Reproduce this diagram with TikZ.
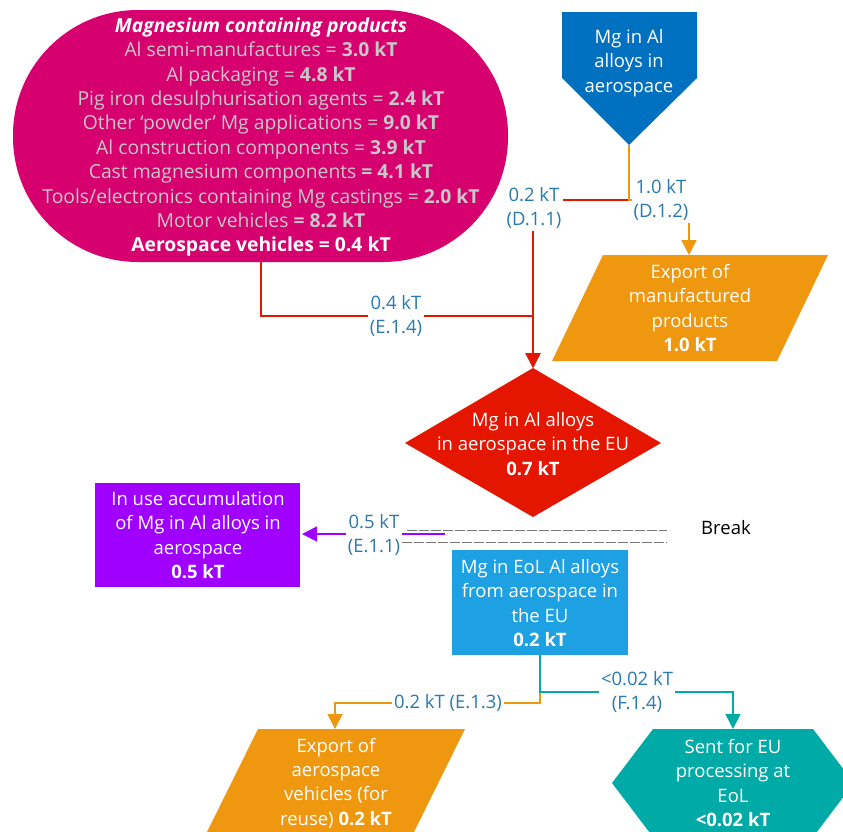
\documentclass[tikz,border=0pt]{standalone}
\usepackage{fontspec}
\setmainfont{Open Sans}
\usetikzlibrary{arrows.meta}

\definecolor{magentaC}{RGB}{214,0,111}
\definecolor{greyText}{RGB}{200,200,200}
\definecolor{blueC}{RGB}{0,112,192}
\definecolor{orangeC}{RGB}{239,151,14}
\definecolor{redC}{RGB}{228,22,0}
\definecolor{purpleC}{RGB}{160,0,255}
\definecolor{skyC}{RGB}{29,161,226}
\definecolor{tealC}{RGB}{0,170,167}
\definecolor{flowLabel}{RGB}{40,122,176}
\definecolor{dashGrey}{RGB}{120,120,120}

\newcommand{\mainfontsize}{\fontsize{18.5}{24.4}\selectfont}
\newcommand{\listfontsize}{\fontsize{19.3}{24.4}\selectfont}

\begin{document}
\begin{tikzpicture}[x=1pt,y=-1pt,
  boxtext/.style={text=white, align=center, font=\mainfontsize, inner sep=0pt},
  flowlabel/.style={text=flowLabel, align=center, font=\mainfontsize, fill=white, inner sep=2pt},
  flow/.style={line width=1.6pt, -{Triangle[width=15pt,length=15pt]}},
  breakline/.style={dashGrey, line width=0.9pt, dash pattern=on 10pt off 2pt},
]
\useasboundingbox (0,0) rectangle (843,831);

% ---- shapes ----
% source stadium: Mg containing products
\fill[magentaC, rounded corners=125pt] (13,10) rectangle (508,262);
% pentagon pointing down
\fill[blueC] (562,12) -- (697,12) -- (697,78) -- (629,145) -- (562,78) -- cycle;
% export parallelogram (top right)
\fill[orangeC] (603,255) -- (828,255) -- (777,361) -- (552,361) -- cycle;
% red diamond
\fill[redC] (533,368) -- (661,443) -- (533,517) -- (405,443) -- cycle;
% purple accumulation box
\fill[purpleC] (95,483) rectangle (300,587);
% EoL box
\fill[skyC] (452,550) rectangle (628,655);
% export parallelogram (bottom left)
\fill[orangeC] (258,729) -- (465,729) -- (412,836) -- (205,836) -- cycle;
% hexagon
\fill[tealC] (653,729) -- (813,729) -- (854,783) -- (813,837) -- (653,837) -- (612,783) -- cycle;

% ---- texts ----
\node[boxtext, text=greyText, font=\listfontsize] (mag) at (261,137) {%
  \textbf{\textit{\color{white}Magnesium containing products}}\\
  Al semi-manufactures = \textbf{3.0 kT}\\
  Al packaging = \textbf{4.8 kT}\\
  Pig iron desulphurisation agents = \textbf{2.4 kT}\\
  Other ‘powder’ Mg applications = \textbf{9.0 kT}\\
  Al construction components = \textbf{3.9 kT}\\
  Cast magnesium components \textbf{= 4.1 kT}\\
  Tools/electronics containing Mg castings = \textbf{2.0 kT}\\
  Motor vehicles \textbf{= 8.2 kT}\\
  \textbf{\color{white}Aerospace vehicles = 0.4 kT}};
\node[boxtext] (src) at (629,63) {Mg in Al\\alloys in\\aerospace};
\node[boxtext] (exp1) at (690,308) {Export of\\manufactured\\products\\\textbf{1.0 kT}};
\node[boxtext] (dia) at (533,444) {Mg in Al alloys\\in aerospace in the EU\\\textbf{0.7 kT}};
\node[boxtext] (acc) at (198,535) {In use accumulation\\of Mg in Al alloys in\\aerospace\\\textbf{0.5 kT}};
\node[boxtext] (eol) at (540,603) {Mg in EoL Al alloys\\from aerospace in\\the EU\\\textbf{0.2 kT}};
\node[boxtext] (exp2) at (336,783) {Export of\\aerospace\\vehicles (for\\reuse) \textbf{0.2 kT}};
\node[boxtext] (hex) at (733,783) {Sent for EU\\processing at\\EoL\\\textbf{<0.02 kT}};
\node[font=\mainfontsize, text=black, inner sep=0pt] (brk) at (726,528) {Break};

% ---- connector anchor points ----
\coordinate (magBot) at (261,262);
\coordinate (magBend) at (261,316);
\coordinate (srcTip) at (629,145);
\coordinate (srcSplit) at (629,200);
\coordinate (diaTop) at (533,368);
\coordinate (exp1Top) at (689,255);
\coordinate (accStart) at (445,534);
\coordinate (accEnd) at (302,534);
\coordinate (eolBot) at (540,655);
\coordinate (eolTeal) at (540,692);
\coordinate (eolOrange) at (540,703);
\coordinate (exp2Top) at (335,729);
\coordinate (hexTop) at (733,729);

% ---- break lines ----
\draw[breakline] (407,530) -- (667,530);
\draw[breakline] (402,542) -- (667,542);

% ---- flows ----
\draw[redC, flow] (srcTip) -- (srcSplit) -| (diaTop);
\draw[redC, flow] (magBot) -- (magBend) -| (diaTop);
\draw[orangeC, flow] (srcTip) -- (srcSplit) -| (exp1Top);
\draw[purpleC, flow] (accStart) -- (accEnd);
\draw[orangeC, flow] (eolBot) -- (eolOrange) -| (exp2Top);
\draw[tealC, flow] (eolBot) -- (eolTeal) -| (hexTop);

% ---- flow labels ----
\node[flowlabel] (fD11) at (534,208) {0.2 kT\\(D.1.1)};
\node[flowlabel] (fD12) at (661,200) {1.0 kT\\(D.1.2)};
\node[flowlabel] (fE14) at (396,316) {0.4 kT\\(E.1.4)};
\node[flowlabel] (fE11) at (374,535) {0.5 kT\\(E.1.1)};
\node[flowlabel] (fE13) at (448,703) {0.2 kT (E.1.3)};
\node[flowlabel] (fF14) at (637,692) {<0.02 kT\\(F.1.4)};
\end{tikzpicture}
\end{document}
